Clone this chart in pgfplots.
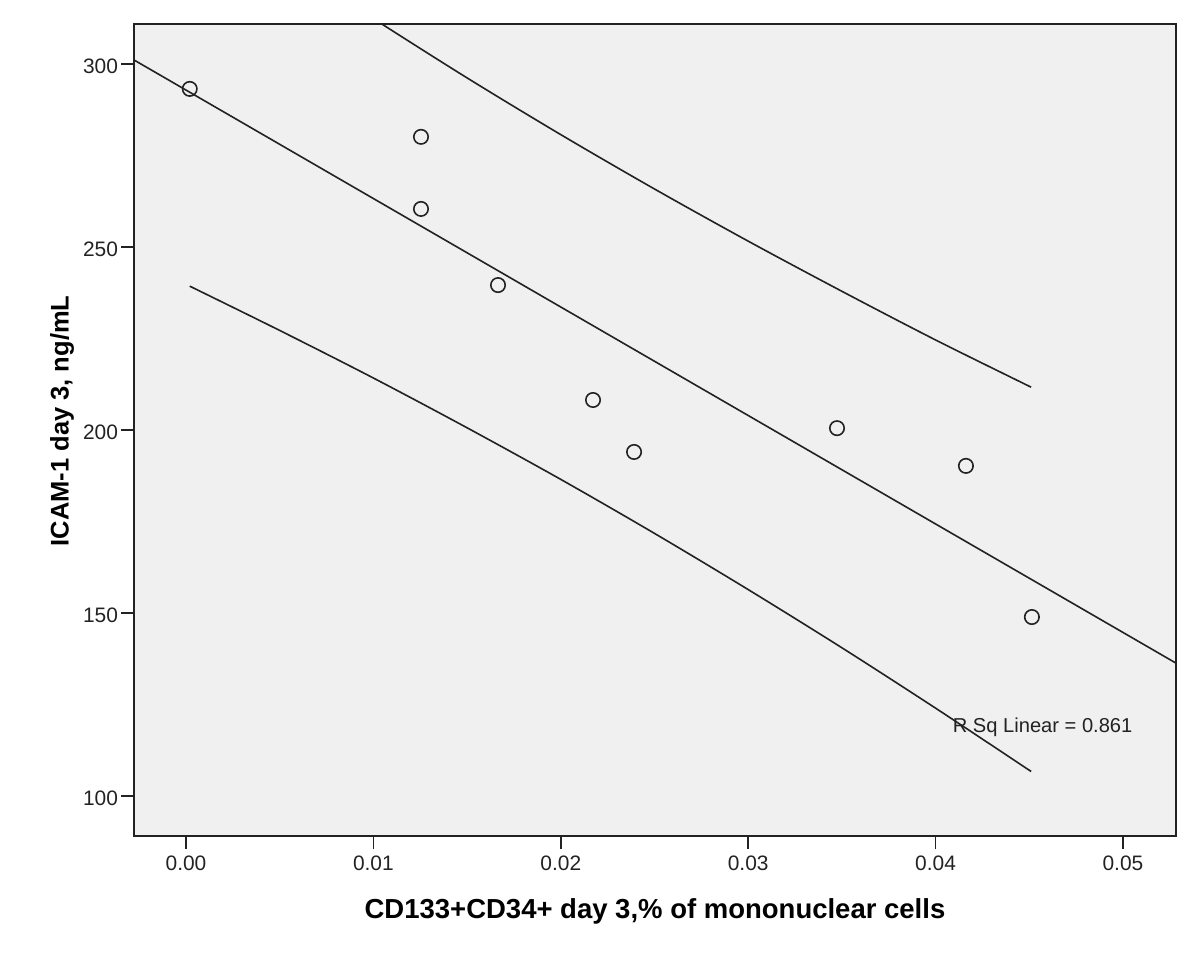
\documentclass[border=0pt]{standalone}
\usepackage{pgfplots}
\pgfplotsset{compat=1.18}
\usepackage{fontspec}
\setmainfont{Liberation Sans}
\definecolor{bg}{HTML}{F0F0F0}
\definecolor{ln}{HTML}{222222}
\begin{document}
\begin{tikzpicture}
\path[use as bounding box] (-67bp,-63bp) rectangle (533bp,418bp);
\begin{axis}[
  at={(0,0)}, anchor=south west,
  scale only axis, width=521bp, height=406bp,
  xmin=-0.002775, xmax=0.05283, ymin=89.07, ymax=310.93,
  axis background/.style={fill=bg},
  axis line style={draw=ln, line width=1bp},
  xtick={0,0.01,0.02,0.03,0.04,0.05},
  ytick={100,150,200,250,300},
  tick align=outside, tick pos=left,
  major tick length=6.5bp,
  tick style={draw=ln, line width=0.8bp},
  /pgf/number format/assume math mode=true,
  xticklabel style={/pgf/number format/fixed, /pgf/number format/precision=2, /pgf/number format/fixed zerofill, font=\fontsize{10.5}{12}\selectfont, text=ln},
  yticklabel style={font=\fontsize{10.5}{12}\selectfont, text=ln, xshift=2bp, yshift=-1bp},
  scaled x ticks=false,
  xlabel={\textbf{CD133+CD34+ day 3,\% of mononuclear cells}},
  ylabel={\textbf{ICAM-1 day 3, ng/mL}},
  xlabel style={font=\fontsize{13.8}{16}\selectfont, at={(axis description cs:0.5,0)}, anchor=center, yshift=-37.5bp},
  ylabel style={font=\fontsize{12.8}{15}\selectfont, at={(axis description cs:0,0.5)}, anchor=center, yshift=36bp, xshift=4.5bp},
  clip=true,
]
% fit line
\addplot[ln, line width=0.8bp] coordinates {(-0.002775,301.1) (0.05283,136.3)};
% upper prediction bound
\addplot[ln, line width=0.8bp, smooth] coordinates {
(0.0002,345.3) (0.005,329.0) (0.01,312.4) (0.015,296.2) (0.02,280.7) (0.025,265.85) (0.03,251.6) (0.035,237.9) (0.04,224.6) (0.0451,211.7)};
% lower prediction bound
\addplot[ln, line width=0.8bp, smooth] coordinates {
(0.0002,239.3) (0.005,227.2) (0.01,214.2) (0.015,200.6) (0.02,186.5) (0.025,171.75) (0.03,156.4) (0.035,140.5) (0.04,124.0) (0.0451,106.7)};
% data points
\addplot[only marks, mark=o, mark size=3.6bp, mark options={draw=ln, line width=0.8bp}] coordinates {
(0.0002,293.2) (0.01254,280.1) (0.01254,260.4) (0.01665,239.6) (0.02172,208.2) (0.02391,194.0) (0.03474,200.5) (0.04162,190.2) (0.04514,148.9)};
\node[anchor=west, font=\fontsize{10.1}{12}\selectfont, text=ln, inner sep=0pt] at (axis cs:0.0409,118.8) {R Sq Linear = 0.861};
\end{axis}
\end{tikzpicture}
\end{document}
